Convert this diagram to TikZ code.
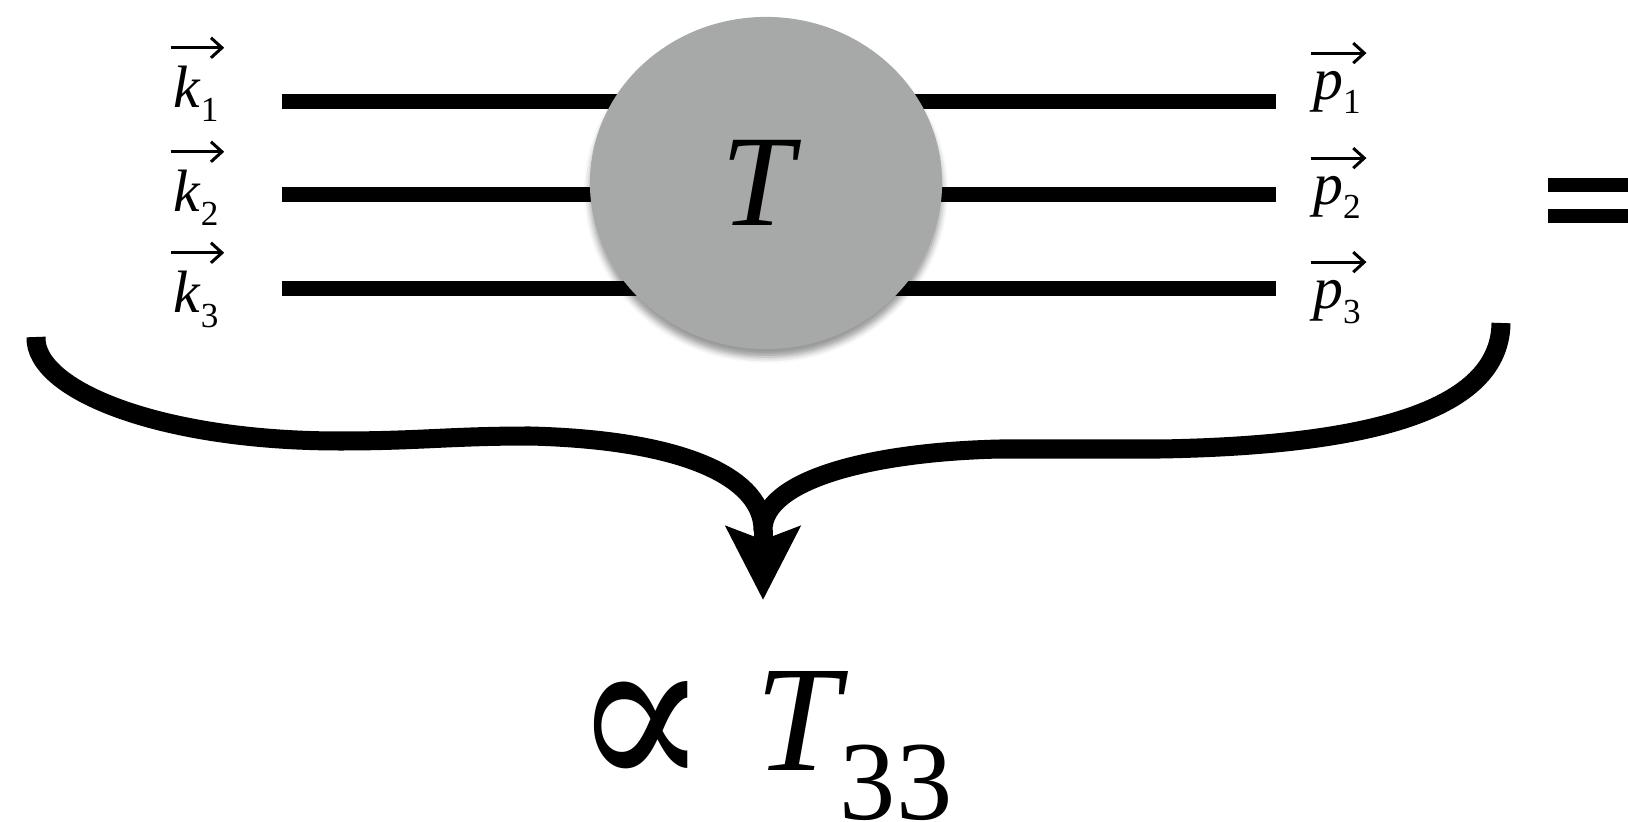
\documentclass[tikz,border=0pt]{standalone}
\usepackage[no-math]{fontspec}
\setmainfont{Liberation Serif}
\newfontfamily\propfont{DejaVu Serif}
\usepackage{graphicx}
\usetikzlibrary{arrows.meta, shapes.geometric, shadows.blur}
\definecolor{BlobGray}{RGB}{166,169,168}
\newcommand{\mom}[2]{\textit{#1}\raisebox{-0.14cm}{\fontsize{10}{10}\selectfont #2}}

\begin{document}
\begin{tikzpicture}[x=0.01cm, y=-0.01cm,
	leg/.style={line width=0.15cm},
	blob/.style={ellipse, fill=BlobGray, minimum width=3.52cm, minimum height=3.32cm,
		inner sep=0pt, blur shadow={shadow xshift=0cm, shadow yshift=-0.08cm,
		shadow blur radius=0.06cm, shadow opacity=40}},
	mom/.style={anchor=base, inner sep=0pt, font=\fontsize{17}{20}\selectfont},
	vecarr/.style={line width=0.3mm, -{Straight Barb[length=1.1mm, width=2mm]}},
	curly/.style={line width=0.19cm, line join=round}]

	\useasboundingbox (0,0) rectangle (1628,822);

	% momenta in and out
	\node[mom] (k1) at (196,108) {\mom{k}{1}};
	\node[mom] (k2) at (196,212) {\mom{k}{2}};
	\node[mom] (k3) at (196,313) {\mom{k}{3}};
	\node[mom] (p1) at (1337,100) {\mom{p}{1}};
	\node[mom] (p2) at (1337,205) {\mom{p}{2}};
	\node[mom] (p3) at (1337,309) {\mom{p}{3}};
	\foreach \m in {k1,k2,k3,p1,p2,p3}
		\draw[vecarr] ([xshift=-0.02cm, yshift=0.18cm]\m.north west)
			-- ([xshift=0.05cm, yshift=0.18cm]\m.north east);

	\foreach \i/\yy in {1/102,2/195,3/289} {
		\coordinate (in\i) at (282,\yy);
		\coordinate (out\i) at (1276,\yy);
		\draw[leg] (in\i) -- (out\i);
	}

	\node[blob] (T) at (766,183) {\fontsize{37}{40}\selectfont\itshape\kern-0.17cm T};

	% brace over all legs
	\coordinate (kend) at (36,337);
	\coordinate (pend) at (1501,323);
	\coordinate (cusp) at (763,530);
	\coordinate (tip) at (763,600);
	\draw[curly] (kend) .. controls (34,390) and (160,441) .. (340,441)
		.. controls (420,441) and (450,436) .. (530,436)
		.. controls (690,440) and (763,480) .. (cusp)
		.. controls (763,480) and (870,452) .. (1000,449)
		.. controls (1060,449) and (1100,449) .. (1160,449)
		.. controls (1400,445) and (1500,400) .. (pend);
	\draw[curly, -{Stealth[length=7.3mm, width=7.3mm, inset=1.3mm]}] (cusp) -- (tip);

	% result
	\node[inner sep=0pt] (prop) at (641,737) {\resizebox{1.37cm}{1.12cm}{\propfont ∝}};
	\node[anchor=base west, inner sep=0pt] (res) at (755,770)
		{{\fontsize{43}{46}\selectfont\itshape T}%
		\raisebox{-0.49cm}{\fontsize{32}{32}\selectfont 33}};

	% equals sign, cut by the frame
	\fill (1548,178) rectangle (1640,192);
	\fill (1548,209) rectangle (1640,223);
\end{tikzpicture}
\end{document}
